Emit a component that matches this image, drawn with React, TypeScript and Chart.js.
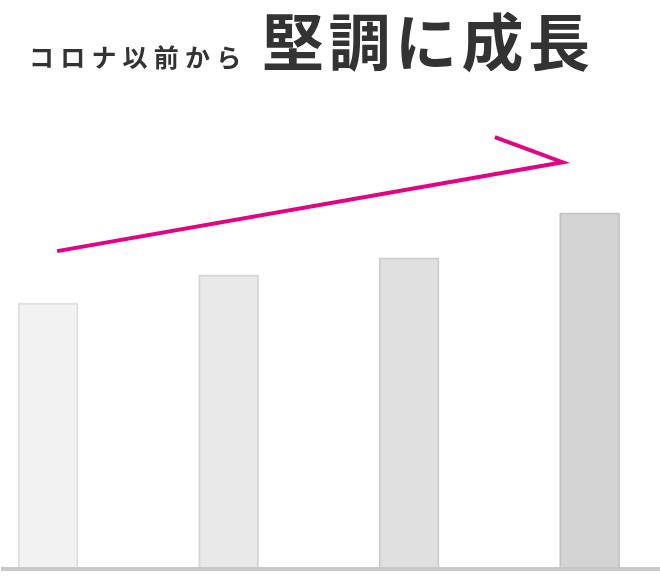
import React, { useEffect, useRef } from "react";
import { Chart, registerables } from "chart.js";

Chart.register(...registerables);

const categories = ["2017", "2018", "2019", "2020"];
const barPositions = [0, 1, 2, 3];
const barValues = [59.2, 65.5, 69.3, 79.3];
const barFills = ["#f2f2f2", "#e9e9e9", "#e0e0e0", "#d4d4d4"];
const barBorders = ["#e0e0e0", "#d7d7d7", "#cecece", "#c4c4c4"];
const arrowX = [0.05, 2.85, 2.475];
const arrowY = [70.8, 90.6, 96.2];
const subTitle = "コロナ以前から";
const mainTitle = "堅調に成長";

export default function App() {
  const canvasRef = useRef<HTMLCanvasElement | null>(null);

  useEffect(() => {
    if (!canvasRef.current) return;
    const chart = new Chart(canvasRef.current, {
      type: "bar",
      data: {
        labels: categories,
        datasets: [
          {
            type: "line",
            data: arrowX.map((x, i) => ({ x, y: arrowY[i] })),
            borderColor: "#e4007f",
            borderWidth: 4,
            pointRadius: 0,
            tension: 0,
            fill: false,
            order: 0,
          } as any,
          {
            type: "bar",
            data: barPositions.map((x, i) => ({ x, y: barValues[i] })),
            backgroundColor: barFills,
            borderColor: barBorders,
            borderWidth: 2,
            barThickness: 60,
            order: 1,
          } as any,
        ],
      },
      options: {
        animation: false,
        responsive: false,
        maintainAspectRatio: false,
        layout: { padding: { top: 120, left: 3, right: 0, bottom: 11 } },
        plugins: { legend: { display: false }, tooltip: { enabled: false }, title: { display: false } },
        scales: {
          x: {
            type: "linear",
            min: -0.25,
            max: 3.39,
            offset: false,
            display: true,
            ticks: { display: false },
            grid: { display: false, drawTicks: false, offset: false },
            border: { display: true, color: "#c9c9c9", width: 4, z: 1 },
          } as any,
          y: {
            min: 0,
            max: 100,
            display: false,
          },
        },
      },
    });
    return () => chart.destroy();
  }, []);

  return (
    <div style={{ position: "absolute", left: 0, top: 0, width: 660, height: 580, background: "#fff" }}>
      <canvas ref={canvasRef} width={660} height={580} style={{ position: "absolute", left: 0, top: 0, width: 660, height: 580 }} />
      <span
        style={{
          position: "absolute",
          left: 29,
          top: 44,
          fontFamily: "'Noto Sans CJK JP', 'Noto Sans', sans-serif",
          fontWeight: 700,
          fontSize: 25,
          lineHeight: 1,
          letterSpacing: 6.2,
          color: "#333333",
          whiteSpace: "nowrap",
        }}
      >
        {subTitle}
      </span>
      <span
        style={{
          position: "absolute",
          left: 262,
          top: 8,
          fontFamily: "'Noto Sans CJK JP', 'Noto Sans', sans-serif",
          fontWeight: 700,
          fontSize: 62,
          lineHeight: 1,
          letterSpacing: 4.5,
          color: "#333333",
          whiteSpace: "nowrap",
        }}
      >
        {mainTitle}
      </span>
    </div>
  );
}
